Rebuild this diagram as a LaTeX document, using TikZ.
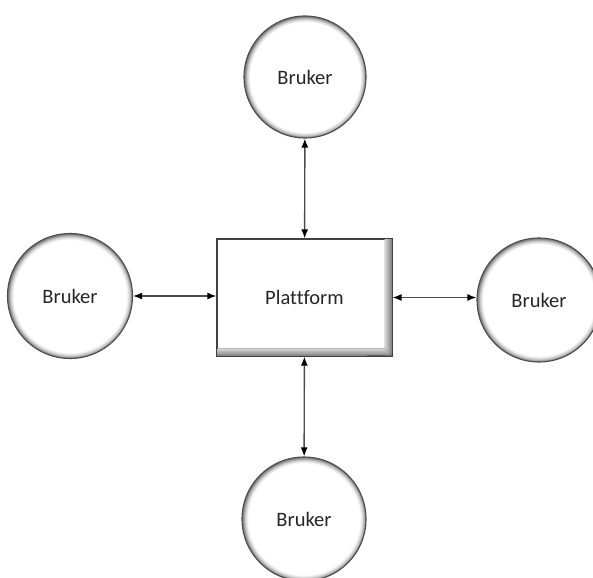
\documentclass[tikz,border=0pt]{standalone}
\usepackage{fontspec}
\setmainfont{Carlito}[Ligatures=CommonOff]
\usetikzlibrary{arrows.meta}
\pgfdeclareradialshading{ballring}{\pgfpoint{0bp}{0bp}}{%
  color(0bp)=(white); color(22.6bp)=(white); color(23.8bp)=(white!80!black);
  color(24.6bp)=(white!55!black); color(25bp)=(white!45!black); color(50bp)=(white!45!black)}
\tikzset{
  txt/.style={font=\fontsize{20.5}{22}\selectfont, text=black!85},
  user/.style={circle, minimum size=#1, inner sep=0pt, shading=ballring,
    draw=black!70, line width=1.1pt, txt},
  platbox/.style={rectangle, minimum width=175pt, minimum height=117pt, inner sep=0pt,
    fill=white, draw=black!75, line width=1.2pt},
  link/.style={draw=black!70, line width=1.4pt, {Latex[length=9pt,width=7pt,color=black]}-{Latex[length=9pt,width=7pt,color=black]}}
}
\begin{document}
\begin{tikzpicture}[x=1pt,y=-1pt]
\useasboundingbox (0,0) rectangle (593,577);
\clip (0,0) rectangle (593,577);
\node[user=122pt] (top) at (305,77) {Bruker};
\node[user=125pt] (left) at (70,296) {Bruker};
\node[user=124pt] (right) at (539,300) {Bruker};
\node[user=124pt] (bot) at (304,519) {Bruker};
\node[platbox] (plat) at (304.5,297.5) {};
\fill[left color=white!85!black, right color=black!55]
  ([xshift=-8pt,yshift=-1pt]plat.north east) rectangle ([yshift=1pt]plat.south east);
\fill[top color=white!85!black, bottom color=black!55]
  ([xshift=1pt,yshift=8pt]plat.south west) -- ([xshift=-8pt,yshift=8pt]plat.south east) -- ([yshift=1pt]plat.south east) -- ([xshift=1pt]plat.south west) -- cycle;
\draw[black!75, line width=1.2pt] (plat.north west) rectangle (plat.south east);
\node[txt] (platlabel) at (plat.center) {Plattform};
\draw[link] (top) -- (plat);
\draw[link] (left.east) -- (left.east -| plat.west);
\draw[link] (plat.east) -- (plat.east -| right.west);
\draw[link] (plat) -- (bot);
\end{tikzpicture}
\end{document}
